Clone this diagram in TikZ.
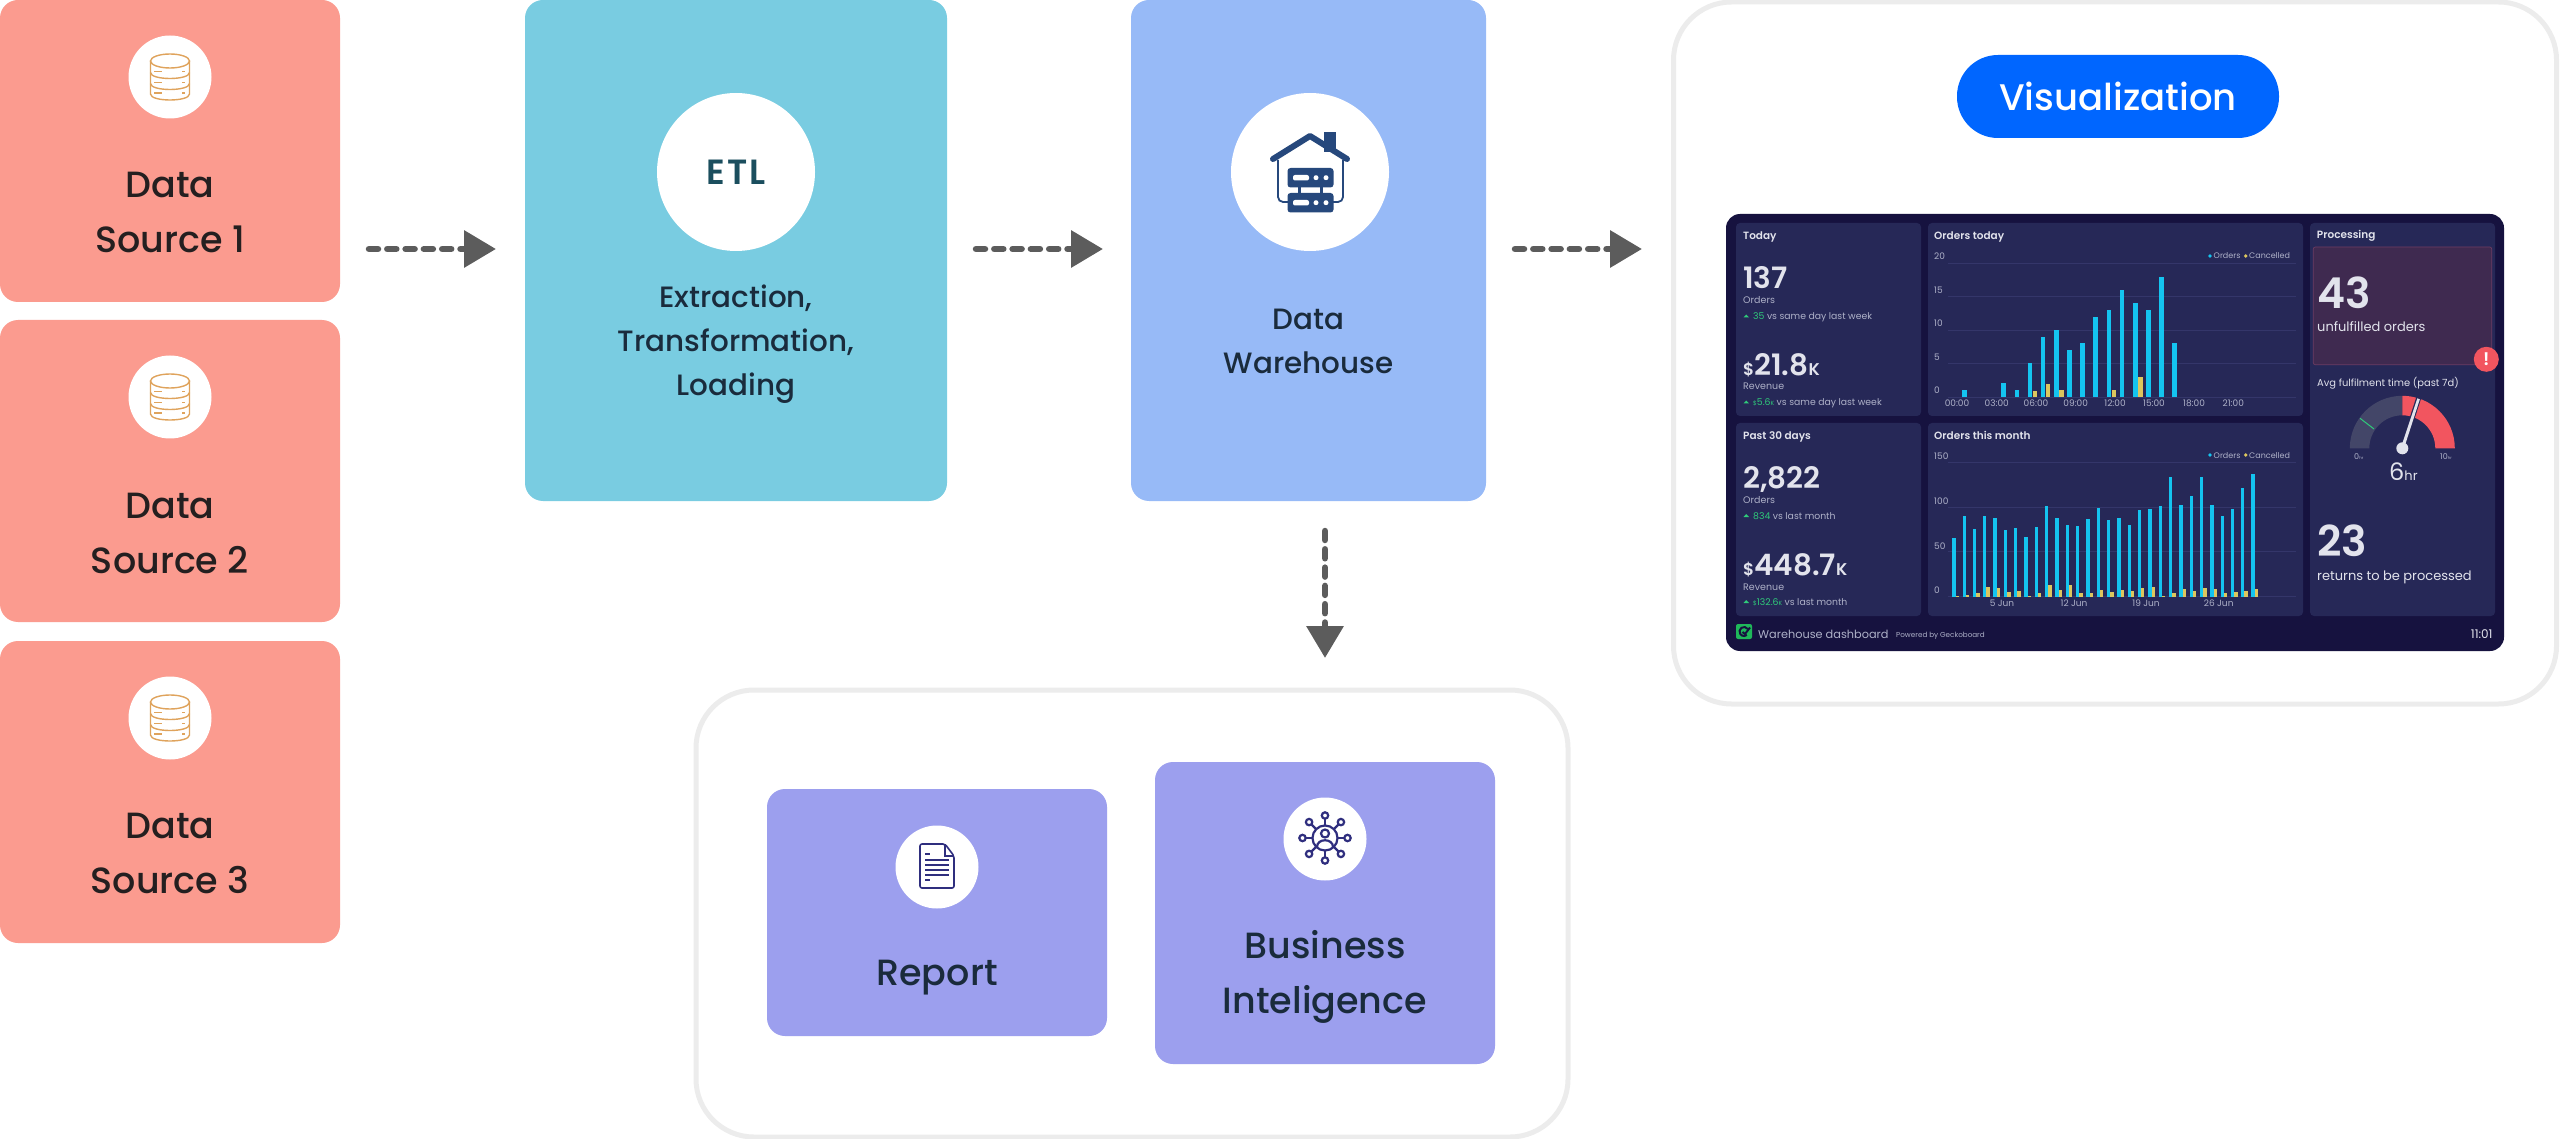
\documentclass[tikz,border=0pt]{standalone}
\usepackage{fontspec}
\setmainfont{Poppins}
\newfontfamily\popm{Poppins Medium}
\newfontfamily\pops{Poppins SemiBold}
\newfontfamily\popetl[LetterSpace=5]{Poppins SemiBold}
\usetikzlibrary{arrows.meta}
\definecolor{dsred}{HTML}{FB9B8F}
\definecolor{etlteal}{HTML}{79CCE1}
\definecolor{whblue}{HTML}{97BAF7}
\definecolor{repurp}{HTML}{9C9FEE}
\definecolor{ink}{HTML}{241F20}
\definecolor{inkb}{HTML}{1A2B3C}
\definecolor{etlink}{HTML}{1B4E5E}
\definecolor{arrowgrey}{HTML}{5C5C5C}
\definecolor{frame}{HTML}{ECECEC}
\definecolor{vizblue}{HTML}{0066FF}
\definecolor{dbor}{HTML}{DFA35C}
\definecolor{housec}{HTML}{26487C}
\definecolor{docc}{HTML}{2F2E7E}
\definecolor{dashbg}{HTML}{16123F}
\definecolor{panel}{HTML}{262857}
\definecolor{dtext}{HTML}{E2E3EC}
\definecolor{dmuted}{HTML}{AEB1C8}
\definecolor{dgreen}{HTML}{2FCB7A}
\definecolor{logog}{HTML}{1FB85A}
\definecolor{barblue}{HTML}{14C4F0}
\definecolor{baryel}{HTML}{DCC65E}
\definecolor{gridc}{HTML}{34366A}
\definecolor{alertc}{HTML}{F2555F}
\definecolor{pinkbg}{HTML}{3F2A50}
\definecolor{pinkln}{HTML}{6E3C62}
\definecolor{gaugeg}{HTML}{434668}
\tikzset{
  cardbox/.style={rectangle,rounded corners=18pt,inner sep=0pt,draw=none},
  framebox/.style={rectangle,rounded corners=58pt,draw=frame,line width=5pt,fill=white,inner sep=0pt},
  iconcircle/.style={circle,fill=white,inner sep=0pt,minimum size=83pt},
  bigcircle/.style={circle,fill=white,inner sep=0pt,minimum size=158pt},
  cardlabel/.style={align=center,inner sep=0pt,font=\popm\fontsize{36.5}{55}\selectfont},
  widelabel/.style={align=center,inner sep=0pt,font=\popm\fontsize{29.4}{44}\selectfont},
  flowarrow/.style={draw=arrowgrey,line width=6.5pt,line cap=round,dash pattern=on 9pt off 9.3pt,
    -{Triangle[length=32pt,width=36pt,fill=arrowgrey]}},
  dtxt/.style={anchor=base west,inner sep=0pt,text=dtext},
  dmut/.style={anchor=base west,inner sep=0pt,text=dmuted},
  axislab/.style={anchor=base,inner sep=0pt,text=dmuted,font=\fontsize{9}{10}\selectfont},
  axislabw/.style={anchor=base west,inner sep=0pt,text=dmuted,font=\fontsize{9}{10}\selectfont},
  dpanel/.style={fill=panel,rounded corners=4pt},
  dbline/.style={draw=dbor,line width=1.4pt},
  bigfig/.style={dtxt,font=\pops\fontsize{29.5}{32}\selectfont},
  hugefig/.style={dtxt,font=\pops\fontsize{42.5}{45}\selectfont},
  smalltxt/.style={dmut,font=\fontsize{9.5}{12}\selectfont},
  headtxt/.style={dtxt,font=\pops\fontsize{10.5}{12}\selectfont},
  trendtxt/.style={dtxt,text=dgreen,font=\fontsize{9.3}{12}\selectfont},
  dbicon/.pic={
    \draw[dbline] (0,-16) ellipse[x radius=19.5pt,y radius=7pt];
    \draw[dbline] (-19.5,-16) -- (-19.5,17) .. controls (-19.5,25) and (19.5,25) .. (19.5,17) -- (19.5,-16);
    \draw[dbline] (-19.5,-4.5) .. controls (-19.5,3.5) and (19.5,3.5) .. (19.5,-4.5);
    \draw[dbline] (-19.5,6.5) .. controls (-19.5,14.5) and (19.5,14.5) .. (19.5,6.5);
    \foreach \yy in {-5.3,5.3,16}{
      \draw[draw=dbor,line width=1.2pt] (-16,\yy) -- (-8,\yy);
      \draw[draw=dbor,line width=1.2pt] (12,\yy) -- (15,\yy);
    }
  }
}
\begin{document}
\begin{tikzpicture}[x=1pt,y=-1pt]
\useasboundingbox (0,0) rectangle (2560,1139);

% frames
\node[framebox,minimum width=883pt,minimum height=702pt] (vizframe) at (2115,353) {};
\node[framebox,minimum width=872pt,minimum height=447pt] (lowframe) at (1132,913.5) {};

% data sources
\node[cardbox,fill=dsred,minimum width=340pt,minimum height=302pt] (ds1) at (170,151) {};
\node[cardbox,fill=dsred,minimum width=340pt,minimum height=302pt] (ds2) at (170,471) {};
\node[cardbox,fill=dsred,minimum width=340pt,minimum height=302pt] (ds3) at (170,792) {};
\node[iconcircle] (ds1c) at (170,77) {};
\node[iconcircle] (ds2c) at (170,397) {};
\node[iconcircle] (ds3c) at (170,718) {};
\pic at (ds1c) {dbicon};
\pic at (ds2c) {dbicon};
\pic at (ds3c) {dbicon};
\node[cardlabel,text=ink] (ds1t) at (170,212.5) {Data\\Source 1};
\node[cardlabel,text=ink] (ds2t) at (170,533) {Data\\Source 2};
\node[cardlabel,text=ink] (ds3t) at (170,853.5) {Data\\Source 3};

% ETL
\node[cardbox,fill=etlteal,minimum width=422pt,minimum height=501pt] (etl) at (736,250.5) {};
\node[bigcircle] (etlc) at (736,172) {};
\node[inner sep=0pt,text=etlink,font=\popetl\fontsize{35}{37}\selectfont] (etli) at (736,172) {ETL};
\node[widelabel,text=inkb] (etlt) at (736,344.5) {Extraction,\\Transformation,\\Loading};

% Warehouse
\node[cardbox,fill=whblue,minimum width=355pt,minimum height=501pt] (wh) at (1308.5,250.5) {};
\node[bigcircle] (whc) at (1310,172) {};
\node[widelabel,text=inkb] (wht) at (1308.5,341) {Data\\Warehouse};
% house icon
\fill[housec] (1324,132) rectangle (1336,152);
\draw[housec,line width=6pt,line cap=round,line join=round] (1273,159) -- (1310,136) -- (1347,159);
\draw[housec,line width=1.8pt,rounded corners=5pt] (1278,160) -- (1278,202) -- (1288,202);
\draw[housec,line width=1.8pt,rounded corners=5pt] (1343,160) -- (1343,202) -- (1333,202);
\draw[housec,line width=3pt] (1299,186) -- (1299,194) (1321,186) -- (1321,194);
\foreach \yy in {168,193}{
  \fill[housec,rounded corners=3pt] (1287.5,\yy) rectangle (1333.5,\yy+19.5);
  \fill[white,rounded corners=2pt] (1293,\yy+7) rectangle (1309,\yy+12.5);
  \fill[white] (1316,\yy+9.7) circle[radius=2.5pt] (1326,\yy+9.7) circle[radius=2.5pt];
}

% arrows
\coordinate (a1s) at (369,249); \coordinate (a1e) at (496,249);
\coordinate (a2s) at (976,249); \coordinate (a2e) at (1103,249);
\coordinate (a3s) at (1515,249); \coordinate (a3e) at (1642,249);
\coordinate (a4s) at (1325,531); \coordinate (a4e) at (1325,658);
\draw[flowarrow] (a1s) -- (a1e);
\draw[flowarrow] (a2s) -- (a2e);
\draw[flowarrow] (a3s) -- (a3e);
\draw[flowarrow] (a4s) -- (a4e);

% report & BI
\node[cardbox,fill=repurp,minimum width=340pt,minimum height=247pt] (rep) at (937,912.5) {};
\node[cardbox,fill=repurp,minimum width=340pt,minimum height=302pt] (bi) at (1325,913) {};
\node[iconcircle] (repc) at (937,867) {};
\node[iconcircle] (bic) at (1325,839) {};
\node[cardlabel,text=inkb,anchor=base] (rept) at (937,985) {Report};
\node[cardlabel,text=inkb] (bit) at (1325,977) {Business\\Inteligence};
% report icon
\draw[docc,line width=1.6pt,line join=round,rounded corners=2pt] (920,844) -- (945,844) -- (954,856) -- (954,888) -- (920,888) -- cycle;
\draw[docc,line width=1.2pt] (945,844) -- (945,856) -- (954,856);
\foreach \yy/\xa in {854/930,860/949,865/949,870/949,875/949,880/930}{
  \draw[docc,line width=1.5pt] (925,\yy) -- (\xa,\yy);
}
% BI icon
\foreach \a in {0,45,...,315}{
  \draw[docc,line width=2.2pt] (1325,838) ++(\a:12.5) -- ++(\a:6.5);
  \draw[docc,line width=2.2pt] (1325,838) ++(\a:22.5) circle[radius=3.2pt];
}
\draw[docc,line width=2.2pt] (1325,838) circle[radius=12.5pt];
\draw[docc,line width=2.2pt] (1325,833.5) circle[radius=4pt];
\draw[docc,line width=2.2pt] (1317,847) .. controls (1317,838) and (1333,838) .. (1333,847);

% Visualization pill
\node[rectangle,rounded corners=41pt,fill=vizblue,minimum width=322pt,minimum height=83pt,inner sep=0pt,text=white,font=\popm\fontsize{37}{42}\selectfont] (viz) at (2118,96.5) {Visualization};

% ---------- dashboard ----------
\fill[dashbg,rounded corners=14pt] (1726,214) rectangle (2504,651);
\fill[dpanel] (1736,223) rectangle (1921,416);
\fill[dpanel] (1736,423) rectangle (1921,616);
\fill[dpanel] (1928,223) rectangle (2303,416);
\fill[dpanel] (1928,423) rectangle (2303,616);
\fill[dpanel] (2310,223) rectangle (2495,616);

% left panels
\node[headtxt] (d1) at (1743,240) {Today};
\node[bigfig] (d2) at (1743,289) {137};
\node[smalltxt] (d3) at (1743,304) {Orders};
\node[trendtxt] (d4) at (1753,319.5) {35 \textcolor{dmuted}{vs same day last week}};
\node[bigfig] (d5) at (1743,375.7) {{\fontsize{17}{18}\selectfont\$}21.8{\fontsize{17}{18}\selectfont K}};
\node[smalltxt] (d6) at (1743,390) {Revenue};
\node[trendtxt] (d7) at (1753,405.7) {{\fontsize{6}{7}\selectfont\$}5.6{\fontsize{6}{7}\selectfont K} \textcolor{dmuted}{vs same day last week}};
\node[headtxt] (d8) at (1743,439) {Past 30 days};
\node[bigfig] (d9) at (1743,488) {2,822};
\node[smalltxt] (d10) at (1743,503.5) {Orders};
\node[trendtxt] (d11) at (1753,519) {834 \textcolor{dmuted}{vs last month}};
\node[bigfig] (d12) at (1743,575) {{\fontsize{17}{18}\selectfont\$}448.7{\fontsize{17}{18}\selectfont K}};
\node[smalltxt] (d13) at (1743,590) {Revenue};
\node[trendtxt] (d14) at (1753,605) {{\fontsize{6}{7}\selectfont\$}132.6{\fontsize{6}{7}\selectfont K} \textcolor{dmuted}{vs last month}};
\foreach \yy in {316,402,515.5,601.5}{
  \fill[dgreen] (1743.5,\yy+1.5) -- (1746.2,\yy-1.5) -- (1749,\yy+1.5) -- cycle;
}

% charts
\node[headtxt] (c1) at (1934,240) {Orders today};
\node[headtxt] (c2) at (1934,439) {Orders this month};
\foreach \yy in {263,296.5,330,363,397}{\draw[gridc,line width=.7pt] (1948,\yy) -- (2296,\yy);}
\foreach \yy in {462.7,507,551.7,596.7}{\draw[gridc,line width=.7pt] (1948,\yy) -- (2296,\yy);}
\foreach \yy/\tt in {260/20,293.7/15,327/10,360.7/5,394/0}{
  \node[axislabw] at (1934,\yy) {\tt};
}
\foreach \yy/\tt in {460/150,504/100,549/50,593/0}{
  \node[axislabw] at (1934,\yy) {\tt};
}
\foreach \xx/\tt in {1957/00:00,1996.7/03:00,2036/06:00,2075.7/09:00,2115/12:00,2154/15:00,2194/18:00,2233.3/21:00}{
  \node[axislab] at (\xx,407) {\tt};
}
\foreach \xx/\tt in {2002/5 Jun,2074/12 Jun,2146/19 Jun,2218.7/26 Jun}{
  \node[axislab] at (\xx,606) {\tt};
}
\foreach \yy in {259,458}{
  \fill[barblue] (2210,\yy-3) circle[radius=1.8pt];
  \fill[baryel] (2245.7,\yy-3) circle[radius=1.8pt];
  \node[axislabw,font=\fontsize{8}{9}\selectfont] at (2213.5,\yy) {Orders};
  \node[axislabw,font=\fontsize{8}{9}\selectfont] at (2249,\yy) {Cancelled};
}
\begin{scope}[shift={(1700,200)},x=0.33333pt,y=-0.33333pt]
  \foreach \xx/\tp in {793/570,911/550,951/570,990/490,1029/410,1069/390,1108/450,1148/430,1187/350,1227/330,1266/270,1306/310,1345/330,1385/230,1424/430}{
    \fill[barblue] (\xx-7,590) rectangle (\xx+7,\tp);
  }
  \foreach \xx/\tp in {1005/572,1044/551,1084/570,1242/571,1321/531}{
    \fill[baryel] (\xx-7,590) rectangle (\xx+7,\tp);
  }
  \foreach \xx/\tp in {762/1015,793/948,824/987,854/948,885/953,917/991,947/983,978/1010,1009/980,1040/917,1071/953,1102/976,1133/977,1164/956,1195/924,1226/959,1257/953,1288/976,1318/930,1350/927,1381/919,1412/830,1443/916,1474/889,1505/830,1536/914,1567/948,1598/927,1628/863,1659/823}{
    \fill[barblue] (\xx-5,1190) rectangle (\xx+5,\tp);
  }
  \foreach \xx/\hh in {772/2,803/6,834/12,864/28,895/25,927/15,957/18,988/2,1019/10,1050/35,1081/20,1112/35,1143/10,1174/12,1205/20,1236/15,1267/20,1298/18,1328/25,1360/28,1391/2,1422/10,1453/22,1484/18,1515/26,1546/24,1577/10,1608/15,1638/18,1669/22}{
    \fill[baryel] (\xx-5,1190) rectangle (\xx+5,1190-\hh);
  }
\end{scope}

% processing panel
\node[headtxt] (p1) at (2316.7,239) {Processing};
\draw[fill=pinkbg,draw=pinkln,line width=.7pt,rounded corners=2pt] (2313.3,247) rectangle (2491.7,364.7);
\node[hugefig] (p2) at (2317,309) {43};
\node[dtxt,font=\fontsize{13}{16}\selectfont] (p3) at (2317,332) {unfulfilled orders};
\node[circle,fill=alertc,minimum size=25pt,inner sep=0pt,text=white,font=\pops\fontsize{18}{18}\selectfont] (p4) at (2486.3,359.3) {!};
\node[dtxt,font=\fontsize{9.9}{12}\selectfont] (p5) at (2317,386.7) {Avg fulfilment time (past 7d)};
\begin{scope}[shift={(2402.3,448.3)},y=1pt]
  \fill[gaugeg] (-52.5,0) arc[start angle=180,end angle=90,radius=52.5pt] -- (0,33) arc[start angle=90,end angle=180,radius=33pt] -- cycle;
  \fill[alertc] (0,52.5) arc[start angle=90,end angle=0,radius=52.5pt] -- (33,0) arc[start angle=0,end angle=90,radius=33pt] -- cycle;
  \draw[panel,line width=5pt] (72:30) -- (72:54);
  \draw[dgreen,line width=1pt] (-42.3,30) -- (-28.3,19.3);
  \fill[dtext] (-2,-1) -- (15,50) -- (17.5,49) -- (2,1) -- cycle;
  \fill[dtext] (0,0) circle[radius=6pt];
\end{scope}
\node[dmut,font=\fontsize{8}{9}\selectfont] (p6) at (2354,460) {0{\fontsize{4}{5}\selectfont hr}};
\node[dmut,font=\fontsize{8}{9}\selectfont] (p7) at (2440,460) {10{\fontsize{4}{5}\selectfont hr}};
\node[dtxt,font=\fontsize{24}{26}\selectfont] (p8) at (2389,480) {6{\fontsize{13}{14}\selectfont hr}};
\node[hugefig] (p9) at (2317,556.7) {23};
\node[dtxt,font=\fontsize{13}{16}\selectfont] (p10) at (2317,580) {returns to be processed};

% footer
\fill[logog,rounded corners=2pt] (1736,624) rectangle (1752,639);
\begin{scope}[shift={(1744,631.5)},y=1pt]
  \draw[dashbg,line width=2pt] (35:4.5) arc[start angle=35,end angle=310,radius=4.5pt];
  \draw[dashbg,line width=2pt] (-1.5,-0.5) -- (1,-2.5) -- (6,4);
\end{scope}
\node[dtxt,text=dmuted,font=\fontsize{11.3}{14}\selectfont] (f1) at (1758,638) {Warehouse dashboard};
\node[dmut,font=\fontsize{7.2}{9}\selectfont] (f2) at (1896,637.7) {Powered by Geckoboard};
\node[dtxt,font=\fontsize{12}{14}\selectfont] (f3) at (2470.7,638) {11:01};
\end{tikzpicture}
\end{document}
